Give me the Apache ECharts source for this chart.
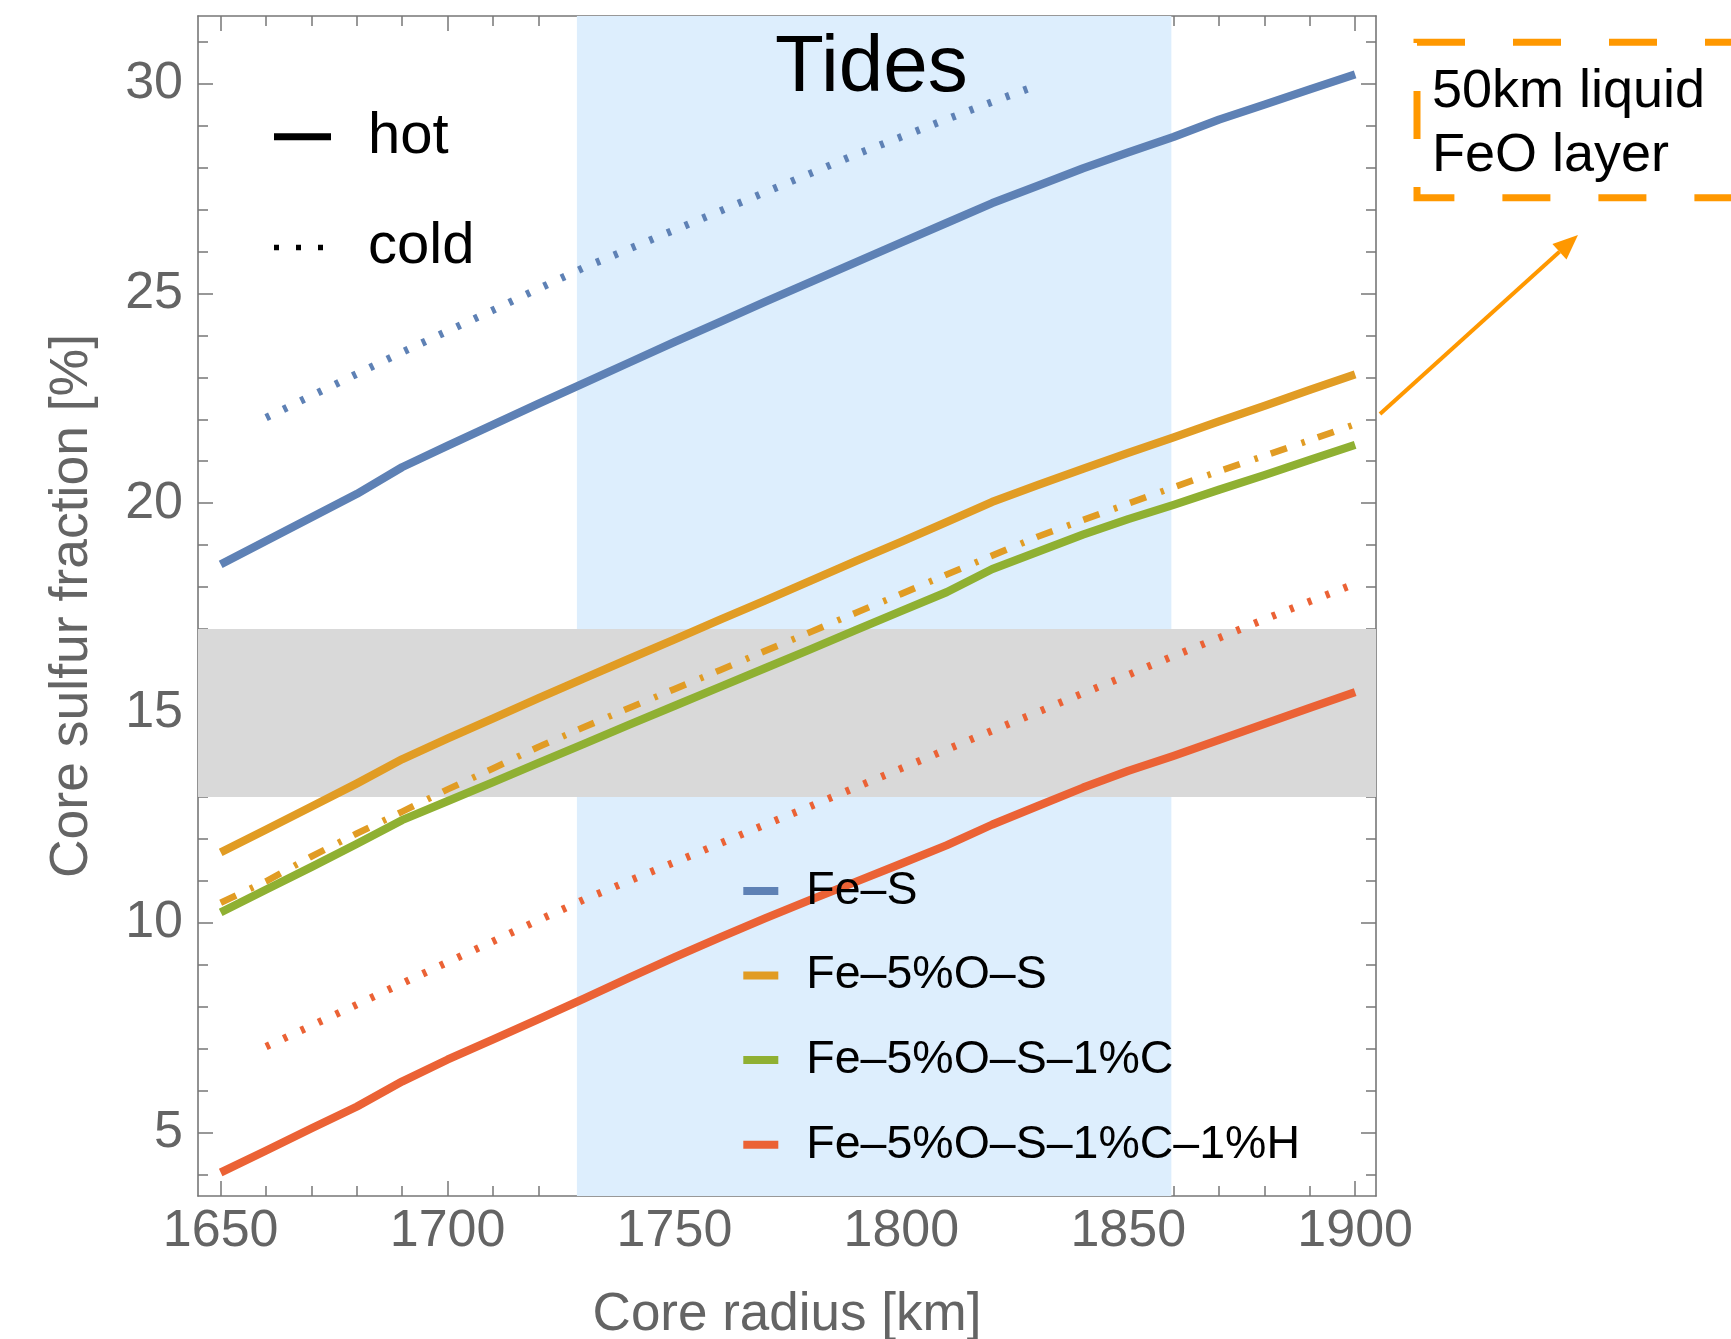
<!DOCTYPE html>
<html>
<head>
<meta charset="utf-8">
<script src="https://cdn.jsdelivr.net/npm/echarts@6/dist/echarts.min.js"></script>
<style>
  html, body { margin: 0; padding: 0; background: #ffffff; }
  #chart { width: 1731px; height: 1339px; }
</style>
</head>
<body>
<div id="chart"></div>
<script>
// Core radius samples [km]
const radius = [1650, 1660, 1670, 1680, 1690, 1700, 1710, 1720, 1730, 1740, 1750, 1760, 1770,
                1780, 1790, 1800, 1810, 1820, 1830, 1840, 1850, 1860, 1870, 1880, 1890, 1900];

// Hot profiles: core sulfur fraction [%]
const hotFeS     = [18.54, 19.10, 19.66, 20.22, 20.86, 21.37, 21.87, 22.37, 22.86, 23.35, 23.84, 24.32, 24.80,
                    25.27, 25.74, 26.21, 26.68, 27.15, 27.56, 27.98, 28.36, 28.73, 29.14, 29.50, 29.86, 30.22];
const hotFeOS    = [11.68, 12.22, 12.77, 13.32, 13.90, 14.39, 14.87, 15.35, 15.82, 16.29, 16.75, 17.22, 17.68,
                    18.15, 18.62, 19.08, 19.55, 20.03, 20.43, 20.82, 21.20, 21.57, 21.95, 22.32, 22.70, 23.07];
const hotFeOSC   = [10.25, 10.79, 11.33, 11.88, 12.45, 12.90, 13.35, 13.81, 14.26, 14.72, 15.17, 15.62, 16.07,
                    16.52, 16.98, 17.43, 17.88, 18.43, 18.84, 19.25, 19.62, 19.96, 20.32, 20.67, 21.03, 21.39];
const hotFeOSCH  = [4.05, 4.57, 5.10, 5.62, 6.22, 6.74, 7.22, 7.70, 8.19, 8.69, 9.18, 9.65, 10.11,
                    10.55, 10.98, 11.41, 11.85, 12.34, 12.78, 13.22, 13.62, 13.98, 14.36, 14.74, 15.12, 15.50];

// Fe-5%O-S with a 50 km liquid FeO layer (hot)
const feoLayerFeOS = [10.48, 10.99, 11.58, 12.13, 12.65, 13.18, 13.68, 14.19, 14.66, 15.12, 15.57, 16.02, 16.48,
                      16.93, 17.39, 17.84, 18.30, 18.75, 19.20, 19.60, 19.99, 20.38, 20.76, 21.13, 21.50, 21.88];

// Cold profiles
const coldRadiusFeS = [1660, 1670, 1680, 1690, 1700, 1710, 1720, 1730, 1740, 1750, 1760, 1770, 1780, 1790,
                       1800, 1810, 1820, 1830];
const coldFeS       = [22.04, 22.56, 23.08, 23.60, 24.10, 24.60, 25.11, 25.61, 26.06, 26.51, 26.96, 27.41, 27.86,
                       28.31, 28.73, 29.15, 29.56, 29.96];
const coldRadiusFeOSCH = [1660, 1670, 1680, 1690, 1700, 1710, 1720, 1730, 1740, 1750, 1760, 1770, 1780,
                          1790, 1800, 1810, 1820, 1830, 1840, 1850, 1860, 1870, 1880, 1890, 1900];
const coldFeOSCH       = [7.05, 7.55, 8.05, 8.56, 9.06, 9.56, 10.06, 10.55, 11.00, 11.44, 11.89, 12.34, 12.78,
                          13.23, 13.68, 14.13, 14.58, 15.02, 15.47, 15.91, 16.36, 16.79, 17.23, 17.66, 18.08];

// Shaded ranges
const tidesRadiusRange = [1728.5, 1859.5];   // core radius allowed by tides [km]
const sulfurRange      = [13, 17];           // sulfur fraction band [%]

// Axis ticks
const xMajorTicks = [1650, 1700, 1750, 1800, 1850, 1900];
const yMajorTicks = [5, 10, 15, 20, 25, 30];
const xMinorTicks = [];
for (let v = 1650; v <= 1900; v += 10) if (v % 50 !== 0) xMinorTicks.push(v);
const yMinorTicks = [];
for (let v = 4; v <= 31; v += 1) if (v % 5 !== 0) yMinorTicks.push(v);

const seriesNames = ['Fe\u2013S', 'Fe\u20135%O\u2013S', 'Fe\u20135%O\u2013S\u20131%C', 'Fe\u20135%O\u2013S\u20131%C\u20131%H'];
const colors = ['#5e81b5', '#e19c24', '#8fb032', '#eb6235'];

const FONT = "'Liberation Sans', Arial, Helvetica, sans-serif";
const FRAME = '#777777';
const LABEL = '#646464';
const X_MIN = 1645, X_MAX = 1904.6;
const Y_MIN = 3.49, Y_MAX = 31.61;

const pairs = (xs, ys) => xs.map((x, i) => [x, ys[i]]);

function xAxisOf(position, ticks, len, main) {
  return {
    type: 'value', position, min: X_MIN, max: X_MAX,
    splitLine: { show: false },
    axisLine: { show: main, onZero: false, lineStyle: { color: FRAME, width: 1.6 } },
    axisTick: { show: true, inside: true, length: len, customValues: ticks,
                lineStyle: { color: FRAME, width: 1.5 } },
    axisLabel: position === 'bottom' && main
      ? { show: true, customValues: ticks, margin: 10, color: LABEL, fontSize: 52, fontFamily: FONT,
          formatter: (v) => String(v) }
      : { show: false }
  };
}
function yAxisOf(position, ticks, len, main) {
  return {
    type: 'value', position, min: Y_MIN, max: Y_MAX,
    splitLine: { show: false },
    axisLine: { show: main, onZero: false, lineStyle: { color: FRAME, width: 1.6 } },
    axisTick: { show: true, inside: true, length: len, customValues: ticks,
                lineStyle: { color: FRAME, width: 1.5 } },
    axisLabel: position === 'left' && main
      ? { show: true, customValues: ticks, margin: 15, color: LABEL, fontSize: 52, fontFamily: FONT,
          formatter: (v) => String(v) }
      : { show: false }
  };
}

const xAxes = [
  Object.assign(xAxisOf('bottom', xMajorTicks, 15, true), {
    name: 'Core radius [km]', nameLocation: 'middle', nameGap: 93,
    nameTextStyle: { color: LABEL, fontSize: 53, fontFamily: FONT }
  }),
  xAxisOf('bottom', xMinorTicks, 10, false),
  xAxisOf('top', xMajorTicks, 15, true),
  xAxisOf('top', xMinorTicks, 10, false)
];
const yAxes = [
  Object.assign(yAxisOf('left', yMajorTicks, 15, true), {
    name: 'Core sulfur fraction [%]', nameLocation: 'middle', nameGap: 99,
    nameTextStyle: { color: LABEL, fontSize: 53.5, fontFamily: FONT }
  }),
  yAxisOf('left', yMinorTicks, 10, false),
  yAxisOf('right', yMajorTicks, 15, true),
  yAxisOf('right', yMinorTicks, 10, false)
];

function lineSeries(name, data, color, lineStyle) {
  return {
    name, type: 'line', data, xAxisIndex: 0, yAxisIndex: 0,
    showSymbol: false, symbol: 'none', smooth: false, z: 3,
    color, itemStyle: { color },
    lineStyle: Object.assign({ color, width: 8.2, cap: 'butt', join: 'round' }, lineStyle),
    emphasis: { disabled: true }
  };
}

const hotStyle = { type: 'solid' };
const dotStyle = { type: [4, 15.2], width: 7.5 };
const dashDotStyle = { type: [17, 15.5, 3.5, 13.7], width: 6.6 };

const series = [
  // shaded ranges
  {
    name: 'ranges', type: 'line', data: [], xAxisIndex: 0, yAxisIndex: 0, silent: true,
    markArea: {
      silent: true,
      data: [
        [{ xAxis: tidesRadiusRange[0], itemStyle: { color: '#ddeefd' } }, { xAxis: tidesRadiusRange[1] }],
        [{ yAxis: sulfurRange[0], itemStyle: { color: '#d9d9d9' } }, { yAxis: sulfurRange[1] }]
      ]
    }
  },
  lineSeries(seriesNames[0], pairs(radius, hotFeS), colors[0], hotStyle),
  lineSeries(seriesNames[1], pairs(radius, hotFeOS), colors[1], hotStyle),
  lineSeries('Fe\u20135%O\u2013S, 50km liquid FeO layer', pairs(radius, feoLayerFeOS), colors[1], dashDotStyle),
  lineSeries(seriesNames[2], pairs(radius, hotFeOSC), colors[2], hotStyle),
  lineSeries(seriesNames[3], pairs(radius, hotFeOSCH), colors[3], hotStyle),
  lineSeries('Fe\u2013S cold', pairs(coldRadiusFeS, coldFeS), colors[0], dotStyle),
  lineSeries('Fe\u20135%O\u2013S\u20131%C\u20131%H cold', pairs(coldRadiusFeOSCH, coldFeOSCH), colors[3], dotStyle),
  // line-style key entries
  lineSeries('hot', [], '#000000', hotStyle),
  lineSeries('cold', [], '#000000', dotStyle)
];

// Key icons: a solid bar for hot, three dots for cold
const hotIcon = 'path://M0,0H57V7H0Z';
const coldIcon = 'path://M0,0H0V7H0Z M0,1H5V6.5H0Z M22,1H27V6.5H22Z M44,1H49V6.5H44Z M57,0H57V7H57Z';

// Arrow from the FeO-layer curve end to the annotation box
const arrowStart = [1380, 414];
const arrowTip = [1578, 235];
const ad = [arrowTip[0] - arrowStart[0], arrowTip[1] - arrowStart[1]];
const al = Math.hypot(ad[0], ad[1]);
const u = [ad[0] / al, ad[1] / al];
const nrm = [-u[1], u[0]];
const headLen = 25, headHalf = 10.5;
const headBase = [arrowTip[0] - u[0] * headLen, arrowTip[1] - u[1] * headLen];
const ORANGE = '#ff9800';

const option = {
  animation: false,
  backgroundColor: '#ffffff',
  textStyle: { fontFamily: FONT },
  title: {
    text: 'Tides', left: 770, top: 24, padding: 5,
    textStyle: { color: '#000000', fontSize: 80, fontWeight: 'normal', fontFamily: FONT }
  },
  grid: { left: 198, top: 16, width: 1178, height: 1180, containLabel: false, outerBoundsMode: 'none' },
  xAxis: xAxes,
  yAxis: yAxes,
  legend: [
    {
      data: [{ name: 'hot', icon: hotIcon }, { name: 'cold', icon: coldIcon }],
      orient: 'vertical', left: 269, top: 102.7,
      itemWidth: 57, itemHeight: 7, itemGap: 52.6, padding: 5,
      selectedMode: false,
      itemStyle: { borderWidth: 0 },
      textStyle: { color: '#000000', fontSize: 58, lineHeight: 58, fontFamily: FONT, padding: [0, 0, 0, 32] }
    },
    {
      data: seriesNames, orient: 'vertical', left: 738.3, top: 862.4,
      icon: 'rect', itemWidth: 35, itemHeight: 8, itemGap: 37.6, padding: 5,
      selectedMode: false,
      itemStyle: { borderWidth: 0 },
      textStyle: { color: '#000000', fontSize: 46.5, lineHeight: 46.5, fontFamily: FONT, padding: [0, 0, 0, 23] }
    }
  ],
  graphic: [
    {
      type: 'rect', silent: true, z: 10,
      shape: { x: 1417, y: 42.3, width: 373, height: 155.4 },
      style: { fill: null, stroke: ORANGE, lineWidth: 7, lineDash: [48, 48] }
    },
    {
      type: 'text', silent: true, z: 10, x: 1432, y: 92.5,
      style: { text: '50km liquid', fill: '#000000', font: '54px ' + FONT, verticalAlign: 'middle', align: 'left' }
    },
    {
      type: 'text', silent: true, z: 10, x: 1432, y: 156,
      style: { text: 'FeO layer', fill: '#000000', font: '54px ' + FONT, verticalAlign: 'middle', align: 'left' }
    },
    {
      type: 'line', silent: true, z: 10,
      shape: { x1: arrowStart[0], y1: arrowStart[1], x2: headBase[0], y2: headBase[1] },
      style: { stroke: ORANGE, lineWidth: 4 }
    },
    {
      type: 'polygon', silent: true, z: 10,
      shape: { points: [
        arrowTip,
        [headBase[0] + nrm[0] * headHalf, headBase[1] + nrm[1] * headHalf],
        [headBase[0] - nrm[0] * headHalf, headBase[1] - nrm[1] * headHalf]
      ] },
      style: { fill: ORANGE }
    }
  ],
  series
};

const chart = echarts.init(document.getElementById('chart'), null, { renderer: 'canvas' });
chart.setOption(option);
</script>
</body>
</html>
